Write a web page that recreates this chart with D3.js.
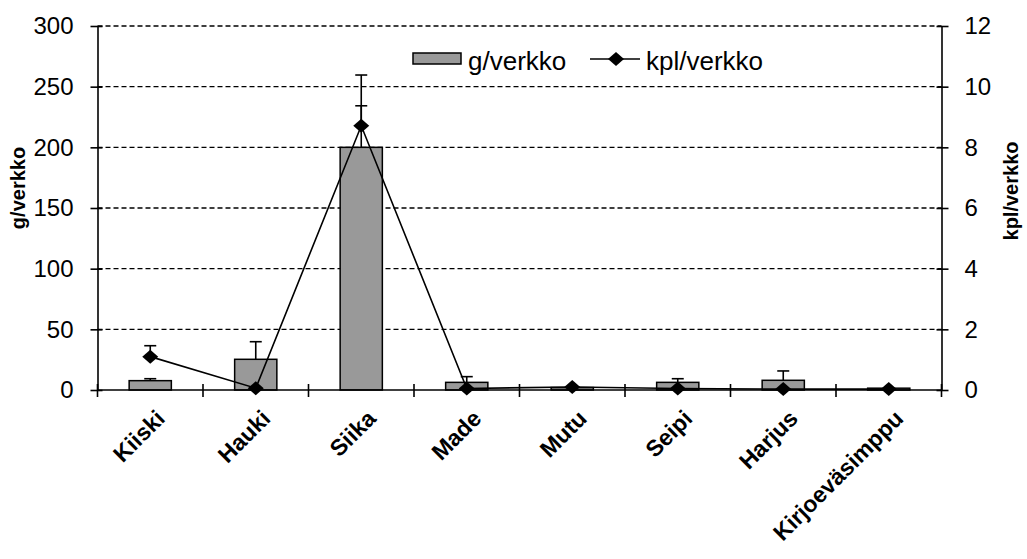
<!DOCTYPE html>
<html><head><meta charset="utf-8">
<script src="https://cdn.jsdelivr.net/npm/d3@7"></script>
<style>body{margin:0;background:#fff}svg{display:block}text{font-family:Arial,"Liberation Sans",sans-serif}</style>
</head><body><svg id="c" width="1027" height="559"></svg>
<script>
const categories = ["Kiiski","Hauki","Siika","Made","Mutu","Seipi","Harjus","Kirjoeväsimppu"];
const gValues   = [7.7, 25.3, 200, 6.3, 2, 6.3, 8, 1.5];
const gErrors   = [1.6, 14.5, 59.6, 4.7, 0, 3, 7.7, 0];
const kplValues = [1.1, 0.06, 8.71, 0.05, 0.1, 0.05, 0.03, 0.03];
const kplErrors = [0.36, 0, 0.66, 0, 0, 0, 0, 0];
const leftTicks = [0,50,100,150,200,250,300];
const rightTicks = [0,2,4,6,8,10,12];

const svg = d3.select("#c");
const L = 97.5, R = 941.5, T = 26, B = 390;
const x = d3.scaleBand().domain(categories).range([L,R]).paddingInner(0.6).paddingOuter(0.3);
const xc = d => x(d) + x.bandwidth()/2;
const yL = d3.scaleLinear().domain([0,300]).range([B,T]);
const yR = d3.scaleLinear().domain([0,12]).range([B,T]);

// gridlines
svg.append("g").selectAll("line").data(leftTicks.filter(t=>t>0)).join("line")
  .attr("x1",L).attr("x2",R).attr("y1",d=>yL(d)).attr("y2",d=>yL(d))
  .attr("stroke","#000").attr("stroke-width",1.4).attr("stroke-dasharray","5,3");

// bars
svg.append("g").selectAll("rect").data(categories).join("rect")
  .attr("x",d=>x(d)).attr("width",x.bandwidth())
  .attr("y",(d,i)=>yL(gValues[i])).attr("height",(d,i)=>B-yL(gValues[i]))
  .attr("fill","#999999").attr("stroke","#000").attr("stroke-width",1.5);

// bar error bars
const eb = svg.append("g").attr("stroke","#000").attr("stroke-width",1.6);
categories.forEach((c,i)=>{
  if(!gErrors[i]) return;
  const cx = xc(c), y0 = yL(gValues[i]), y1 = yL(gValues[i]+gErrors[i]);
  eb.append("line").attr("x1",cx).attr("x2",cx).attr("y1",y0).attr("y2",y1);
  eb.append("line").attr("x1",cx-6).attr("x2",cx+6).attr("y1",y1).attr("y2",y1);
});

// axes
const axL = d3.axisLeft(yL).tickValues(leftTicks).tickSize(0).tickPadding(24);
const gL = svg.append("g").attr("transform",`translate(${L},0)`).call(axL);
const axR = d3.axisRight(yR).tickValues(rightTicks).tickSize(0).tickPadding(23);
const gR = svg.append("g").attr("transform",`translate(${R},0)`).call(axR);
[gL,gR].forEach(g=>{
  g.select(".domain").attr("stroke","#000").attr("stroke-width",1.6);
  g.selectAll("text").attr("font-size",24).attr("fill","#000").attr("font-family","Arial, 'Liberation Sans', sans-serif");
});
gL.selectAll(".tick").append("line").attr("x1",-7).attr("x2",5).attr("stroke","#000").attr("stroke-width",1.6);
gR.selectAll(".tick").append("line").attr("x1",-5).attr("x2",7).attr("stroke","#000").attr("stroke-width",1.6);

// x axis
svg.append("line").attr("x1",L).attr("x2",R).attr("y1",B).attr("y2",B).attr("stroke","#000").attr("stroke-width",1.6);
const bounds = categories.map(c=>x(c)-x.step()*0.3).concat([R]);
svg.append("g").selectAll("line").data(bounds).join("line")
  .attr("x1",d=>d).attr("x2",d=>d).attr("y1",B-6).attr("y2",B+7).attr("stroke","#000").attr("stroke-width",1.6);
svg.append("g").selectAll("text").data(categories).join("text")
  .attr("transform",d=>`translate(${xc(d)+16},${B+30}) rotate(-45)`)
  .attr("text-anchor","end")
  .attr("font-size",23).attr("font-weight","bold").text(d=>d);

// kpl line
const line = d3.line().x((d,i)=>xc(categories[i])).y(d=>yR(d));
svg.append("path").datum(kplValues).attr("d",line).attr("fill","none").attr("stroke","#000").attr("stroke-width",1.6);
const ek = svg.append("g").attr("stroke","#000").attr("stroke-width",1.6);
categories.forEach((c,i)=>{
  if(!kplErrors[i]) return;
  const cx = xc(c), y0 = yR(kplValues[i]), y1 = yR(kplValues[i]+kplErrors[i]);
  ek.append("line").attr("x1",cx).attr("x2",cx).attr("y1",y0).attr("y2",y1);
  ek.append("line").attr("x1",cx-6).attr("x2",cx+6).attr("y1",y1).attr("y2",y1);
});
const dpath = "M0,-7L8,0L0,7L-8,0Z";
svg.append("g").selectAll("path").data(kplValues).join("path")
  .attr("transform",(d,i)=>`translate(${xc(categories[i])},${yR(d)})`)
  .attr("d",dpath).attr("fill","#000");

// axis titles
svg.append("text").attr("transform","translate(25,188) rotate(-90)").attr("text-anchor","middle")
  .attr("font-size",20).attr("font-weight","bold").text("g/verkko");
svg.append("text").attr("transform","translate(1018,191) rotate(-90)").attr("text-anchor","middle")
  .attr("font-size",20).attr("font-weight","bold").text("kpl/verkko");

// legend
const lg = svg.append("g");
lg.append("rect").attr("x",413).attr("y",53).attr("width",48).attr("height",11).attr("fill","#999999").attr("stroke","#000").attr("stroke-width",1.5);
lg.append("text").attr("x",468).attr("y",70).attr("font-size",26).text("g/verkko");
lg.append("line").attr("x1",590).attr("x2",640).attr("y1",59).attr("y2",59).attr("stroke","#000").attr("stroke-width",1.6);
lg.append("path").attr("transform","translate(616,59)").attr("d",dpath).attr("fill","#000");
lg.append("text").attr("x",646).attr("y",70).attr("font-size",26).text("kpl/verkko");
</script></body></html>
